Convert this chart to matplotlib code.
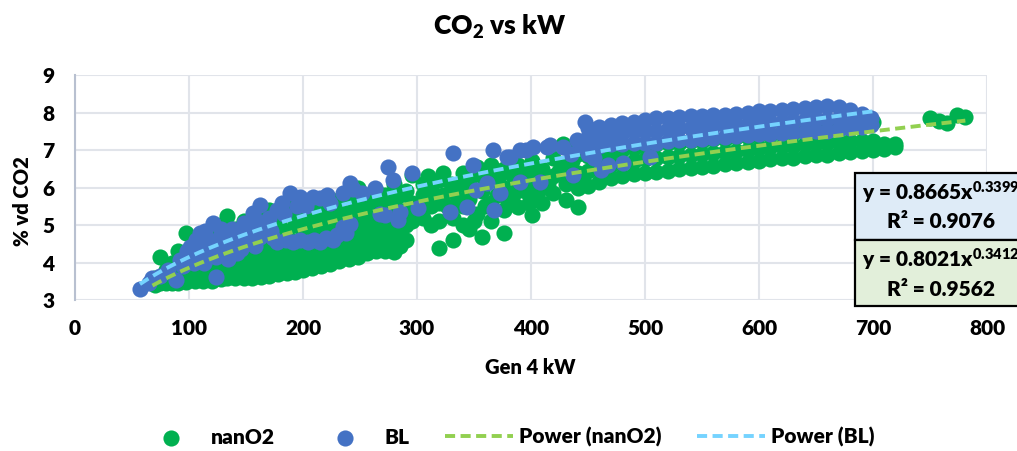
import numpy as np
import matplotlib
matplotlib.use("Agg")
import matplotlib.pyplot as plt
from matplotlib.patches import Rectangle

plt.rcParams['font.family'] = ['Lato', 'DejaVu Sans']
plt.rcParams['font.weight'] = 'heavy'
plt.rcParams['mathtext.fontset'] = 'custom'
plt.rcParams['mathtext.rm'] = 'Lato:heavy'
plt.rcParams['mathtext.it'] = 'Lato:heavy'
plt.rcParams['mathtext.bf'] = 'Lato:heavy'

# nanO2 points (kW, % vd CO2)
nano_pts = [
    (70, 3.4), (70, 3.6), (75, 3.45), (75, 4.15), (80, 3.45), (80, 3.8),
    (85, 3.45), (85, 3.7), (85, 4.0), (90, 3.45), (90, 3.9), (90, 4.3),
    (97, 3.48), (97, 3.8), (97, 4.2), (97, 4.8),
    (105, 3.5), (105, 3.9), (105, 4.3), (105, 4.6),
    (112, 3.5), (112, 3.8), (112, 4.2), (112, 4.5),
    (120, 3.52), (120, 3.9), (120, 4.3), (120, 4.7),
    (128, 3.55), (128, 4.0), (128, 4.5), (128, 5.0),
    (133, 3.58), (133, 3.9), (133, 4.4), (133, 5.25),
    (140, 3.58), (140, 4.0), (140, 4.4), (140, 4.9),
    (148, 3.6), (148, 3.95), (148, 4.3), (148, 4.7), (148, 5.1),
    (155, 3.6), (155, 4.0), (155, 4.5), (155, 5.0),
    (163, 3.62), (163, 4.1), (163, 4.6), (163, 5.2),
    (170, 3.65), (170, 4.0), (170, 4.4), (170, 4.9), (170, 5.4),
    (178, 3.7), (178, 4.1), (178, 4.6), (178, 5.1),
    (186, 3.72), (186, 4.2), (186, 4.7), (186, 5.3),
    (193, 3.75), (193, 4.1), (193, 4.5), (193, 5.0), (193, 5.5),
    (200, 3.8), (200, 4.3), (200, 4.8), (200, 5.4),
    (208, 3.85), (208, 4.2), (208, 4.6), (208, 5.1), (208, 5.6),
    (216, 3.9), (216, 4.4), (216, 4.9), (216, 5.4),
    (224, 3.95), (224, 4.3), (224, 4.7), (224, 5.2), (224, 5.7),
    (232, 4.05), (232, 4.5), (232, 5.0), (232, 5.5),
    (240, 4.1), (240, 4.4), (240, 4.8), (240, 5.3), (240, 5.8),
    (248, 4.15), (248, 4.6), (248, 5.1), (248, 5.6), (248, 6.0),
    (256, 4.25), (256, 4.7), (256, 5.2), (256, 5.7),
    (264, 4.3), (264, 4.6), (264, 5.0), (264, 5.5), (264, 5.9),
    (272, 4.3), (272, 4.8), (272, 5.3), (272, 5.8),
    (280, 4.28), (280, 4.7), (280, 5.1), (280, 5.6), (280, 6.1),
    (290, 4.6), (290, 5.0), (290, 5.4), (290, 5.9),
    (101, 3.7), (101, 4.1), (108, 3.65), (108, 4.05), (108, 4.45),
    (116, 3.7), (116, 4.1), (116, 4.5), (124, 3.75), (124, 4.2), (124, 4.85),
    (136, 3.75), (136, 4.2), (136, 4.65), (144, 3.8), (144, 4.2), (144, 4.6),
    (152, 3.8), (152, 4.25), (152, 4.8), (159, 3.85), (159, 4.3), (159, 4.9),
    (166, 3.85), (166, 4.25), (166, 4.7), (174, 3.9), (174, 4.35), (174, 4.8),
    (182, 3.9), (182, 4.4), (182, 4.9), (189, 3.95), (189, 4.5),
    (197, 4.05), (197, 4.6), (197, 5.2), (204, 4.05), (204, 4.5), (204, 4.95),
    (212, 4.1), (212, 4.7), (212, 5.2), (220, 4.15), (220, 4.6), (220, 5.0),
    (228, 4.2), (228, 4.75), (228, 5.3), (236, 4.3), (236, 4.7), (236, 5.1),
    (244, 4.35), (244, 4.9), (244, 5.4), (252, 4.4), (252, 4.9), (252, 5.4),
    (260, 4.5), (260, 4.95), (260, 5.4), (268, 4.5), (268, 5.05), (268, 5.6),
    (276, 4.55), (276, 5.0), (276, 5.45), (285, 4.45), (285, 4.85),
    (285, 5.3), (285, 5.8),
    (296, 5.1), (296, 5.6), (296, 6.33), (305, 5.2), (305, 5.8), (305, 6.1),
    (312, 5.0), (312, 5.5), (312, 6.0), (319, 4.39), (319, 5.1), (319, 5.6),
    (319, 6.2), (323, 6.39), (323, 5.8), (332, 4.6), (332, 5.2), (332, 5.9),
    (340, 5.0), (340, 5.5), (340, 6.1), (340, 6.4), (346, 4.9), (346, 5.7),
    (346, 6.2), (353, 6.55), (353, 5.3), (357, 4.68), (357, 5.9), (357, 6.3),
    (365, 5.1), (365, 5.6), (365, 6.2), (365, 6.6), (376, 4.79), (376, 5.4),
    (376, 6.0), (376, 6.5), (384, 5.8), (384, 6.3), (389, 5.48), (389, 6.1),
    (389, 6.6), (395, 5.9), (395, 6.4), (401, 5.27), (401, 5.8), (401, 6.2),
    (401, 6.7), (410, 5.6), (410, 6.0), (410, 6.5), (419, 5.85), (419, 6.3),
    (419, 6.8), (428, 7.15), (431, 5.67), (431, 6.1), (431, 6.6), (440, 7.05),
    (441, 5.48), (441, 6.0), (441, 6.4), (441, 6.9),
    (300, 5.4), (308, 5.6), (315, 5.8), (326, 5.5), (336, 5.7), (345, 6.0),
    (350, 5.1), (360, 5.5), (370, 5.8), (372, 6.3), (380, 5.6), (393, 6.2),
    (398, 5.6), (405, 6.4), (415, 6.1), (425, 6.45), (436, 6.7), (445, 6.2),
    (330, 6.1), (310, 6.3),
    (450, 6.05), (450, 6.45), (450, 6.85), (450, 7.1),
    (460, 6.15), (460, 6.5), (460, 6.9), (470, 6.25), (470, 6.6), (470, 6.95),
    (480, 6.3), (480, 6.65), (480, 7.0), (490, 6.35), (490, 6.7), (490, 7.05),
    (500, 6.4), (500, 6.75), (500, 7.1), (510, 6.42), (510, 6.8), (510, 7.15),
    (520, 6.45), (520, 6.82), (520, 7.2), (530, 6.5), (530, 6.85), (530, 7.2),
    (540, 6.52), (540, 6.88), (540, 7.25), (550, 6.55), (550, 6.9), (550, 7.25),
    (560, 6.58), (560, 6.92), (560, 7.3), (570, 6.62), (570, 6.95), (570, 7.3),
    (580, 6.65), (580, 6.98), (580, 7.35), (590, 6.68), (590, 7.0), (590, 7.35),
    (600, 6.72), (600, 7.05), (600, 7.4), (610, 6.75), (610, 7.08), (610, 7.4),
    (620, 6.78), (620, 7.1), (620, 7.45), (630, 6.8), (630, 7.12), (630, 7.45),
    (640, 6.83), (640, 7.15), (640, 7.5), (650, 6.86), (650, 7.18), (650, 7.5),
    (660, 6.88), (660, 7.2), (660, 7.55), (670, 6.92), (670, 7.22), (670, 7.55),
    (680, 6.95), (680, 7.25), (680, 7.6), (690, 6.98), (690, 7.25), (690, 7.65),
    (700, 7.0), (700, 7.25), (700, 7.75), (710, 7.03), (710, 7.15),
    (719, 7.08), (719, 7.15),
    (750, 7.85), (758, 7.78), (765, 7.72), (774, 7.93), (781, 7.88),
]

# BL points (kW, % vd CO2)
bl_pts = [
    (57, 3.3), (65, 3.45), (68, 3.6), (75, 3.65), (82, 3.8), (89, 3.53),
    (92, 4.07), (95, 3.9), (100, 4.15), (101, 4.41), (107, 4.15), (110, 4.79),
    (110, 4.45), (116, 4.33), (118, 4.6), (121, 5.05), (124, 3.61), (127, 4.68),
    (130, 4.3), (136, 4.41), (138, 4.9), (142, 4.79), (142, 4.25), (146, 4.6),
    (151, 4.95), (151, 4.52), (156, 5.32), (158, 4.8), (162, 5.53), (162, 4.68),
    (168, 5.05), (172, 4.85), (177, 5.4), (177, 4.55), (182, 5.59), (189, 5.85),
    (191, 4.55), (197, 5.75), (197, 4.6), (203, 5.5), (204, 4.55), (209, 5.75),
    (215, 4.55), (215, 5.72), (221, 5.8), (224, 5.6), (226, 4.6), (230, 4.73),
    (235, 4.95), (235, 5.85), (241, 6.12), (244, 5.95), (252, 5.85), (263, 5.99),
    (98, 4.3), (104, 4.0), (106, 4.6), (113, 4.0), (114, 4.85), (120, 4.45),
    (124, 4.15), (128, 4.9), (132, 4.55), (134, 4.1), (140, 4.6), (146, 4.35),
    (148, 5.05), (154, 4.7), (158, 4.45), (160, 5.1), (165, 4.85), (170, 5.2),
    (174, 4.65), (185, 4.6), (183, 5.3), (195, 5.5), (210, 4.6), (220, 4.65),
    (238, 4.8), (241, 5.02),
    (268, 5.3), (272, 5.27), (275, 6.55), (279, 6.2), (283, 5.13), (285, 5.35),
    (296, 6.39), (301, 5.45), (329, 5.35), (332, 6.92), (344, 5.48), (349, 6.6),
    (352, 5.93), (361, 6.12), (367, 7.0), (368, 5.4), (373, 5.85), (379, 6.81),
    (382, 6.81), (390, 7.0), (390, 6.15), (396, 7.0), (402, 7.08), (408, 6.15),
    (414, 7.08), (417, 7.13), (428, 7.08), (435, 6.9), (437, 6.33), (440, 7.27),
    (445, 7.1), (447, 7.75), (450, 6.9), (455, 6.8), (461, 6.47), (468, 6.6),
    (481, 6.65), (504, 6.81),
    (450, 7.1), (450, 7.35), (450, 7.6), (460, 7.12), (460, 7.4), (460, 7.62),
    (470, 7.15), (470, 7.45), (470, 7.68), (480, 7.17), (480, 7.45), (480, 7.72),
    (490, 7.18), (490, 7.5), (490, 7.76), (500, 7.2), (500, 7.5), (500, 7.8),
    (510, 7.2), (510, 7.52), (510, 7.85), (520, 7.23), (520, 7.55), (520, 7.86),
    (530, 7.26), (530, 7.58), (530, 7.88), (540, 7.28), (540, 7.6), (540, 7.9),
    (550, 7.3), (550, 7.62), (550, 7.92), (560, 7.33), (560, 7.64), (560, 7.93),
    (570, 7.36), (570, 7.66), (570, 7.94), (580, 7.38), (580, 7.68), (580, 7.97),
    (590, 7.4), (590, 7.7), (590, 8.0), (600, 7.42), (600, 7.72), (600, 8.03),
    (610, 7.44), (610, 7.74), (610, 8.05), (620, 7.46), (620, 7.76), (620, 8.08),
    (630, 7.47), (630, 7.78), (630, 8.1), (640, 7.48), (640, 7.8), (640, 8.12),
    (650, 7.5), (650, 7.82), (650, 8.15), (660, 7.52), (660, 7.84), (660, 8.17),
    (670, 7.55), (670, 7.85), (670, 8.15), (680, 7.58), (680, 7.86), (680, 8.08),
    (690, 7.62), (690, 7.85), (690, 7.95), (698, 7.68), (698, 7.85),
]

# power trendlines y = a * x^b, as printed on the chart
nano_fit = (0.8021, 0.3412, 0.9562)
bl_fit = (0.8665, 0.3399, 0.9076)
nano_range = (68, 781)
bl_range = (57, 700)

nano = np.array(nano_pts)
bl = np.array(bl_pts)

fig = plt.figure(figsize=(10.17, 4.51), dpi=100)
ax = fig.add_axes([0.0737, 0.3348, 0.8968, 0.4989])

ax.scatter(nano[:, 0], nano[:, 1], s=135, color='#00B050', linewidths=0,
           label='nanO2', zorder=3)
ax.scatter(bl[:, 0], bl[:, 1], s=135, color='#4472C4', linewidths=0,
           label='BL', zorder=4)

xs = np.linspace(nano_range[0], nano_range[1], 200)
ax.plot(xs, nano_fit[0] * xs ** nano_fit[1], color='#92D050', lw=2.8,
        dashes=(2.6, 1.4), label='Power (nanO2)', zorder=5)
xs = np.linspace(bl_range[0], bl_range[1], 200)
ax.plot(xs, bl_fit[0] * xs ** bl_fit[1], color='#75D3FF', lw=2.8,
        dashes=(2.6, 1.4), label='Power (BL)', zorder=6)

ax.set_xlim(0, 800)
ax.set_ylim(3, 9)
ax.set_xticks(range(0, 801, 100))
ax.set_yticks(range(3, 10))
ax.grid(True, color='#E1E4EA', lw=1.5, zorder=0)
ax.set_axisbelow(True)
for s in ['top', 'right', 'bottom']:
    ax.spines[s].set_visible(False)
ax.spines['left'].set_color('#B8C0D0')
ax.spines['left'].set_linewidth(1.5)
ax.tick_params(length=0, labelsize=15)
ax.tick_params(axis='x', pad=14)
ax.tick_params(axis='y', pad=15)

ax.set_xlabel('Gen 4 kW', fontsize=14.5, fontweight='heavy')
ax.xaxis.label.set_va('center')
ax.xaxis.set_label_coords(0.499, -0.302)
ax.set_ylabel('% vd CO2', fontsize=14.5, fontweight='heavy')
ax.yaxis.label.set_va('center')
ax.yaxis.set_label_coords(-0.058, 0.44)

fig.text(0.491, 1 - 27 / 451, 'CO$_2$ vs kW', ha='center', va='center',
         fontsize=19, fontweight='heavy')

# trendline labels, cut off by the right edge like the original
W, H = 1017, 451
fig.patches.append(Rectangle((855 / W, 1 - 240 / H), 200 / W, 67 / H,
                             transform=fig.transFigure, facecolor='#DEEBF7',
                             edgecolor='black', lw=1.6))
fig.patches.append(Rectangle((855 / W, 1 - 306 / H), 200 / W, 66 / H,
                             transform=fig.transFigure, facecolor='#E2EFDA',
                             edgecolor='black', lw=1.6))
for fit, yc in [(bl_fit, 193), (nano_fit, 260)]:
    fig.text(862 / W, 1 - yc / H, 'y = %.4fx$^{%.4f}$' % (fit[0], fit[1]),
             ha='left', va='center', fontsize=15, fontweight='heavy')
    fig.text(941 / W, 1 - (yc + 29) / H, 'R² = %.4f' % fit[2],
             ha='center', va='center', fontsize=15, fontweight='heavy')

fig.legend(loc='center', bbox_to_anchor=(0.4975, 1 - 437 / 451), ncol=4,
           frameon=False, fontsize=15, handlelength=3.25, handletextpad=0.3,
           columnspacing=1.7, scatterpoints=1)

fig.savefig('out.png', dpi=100)
